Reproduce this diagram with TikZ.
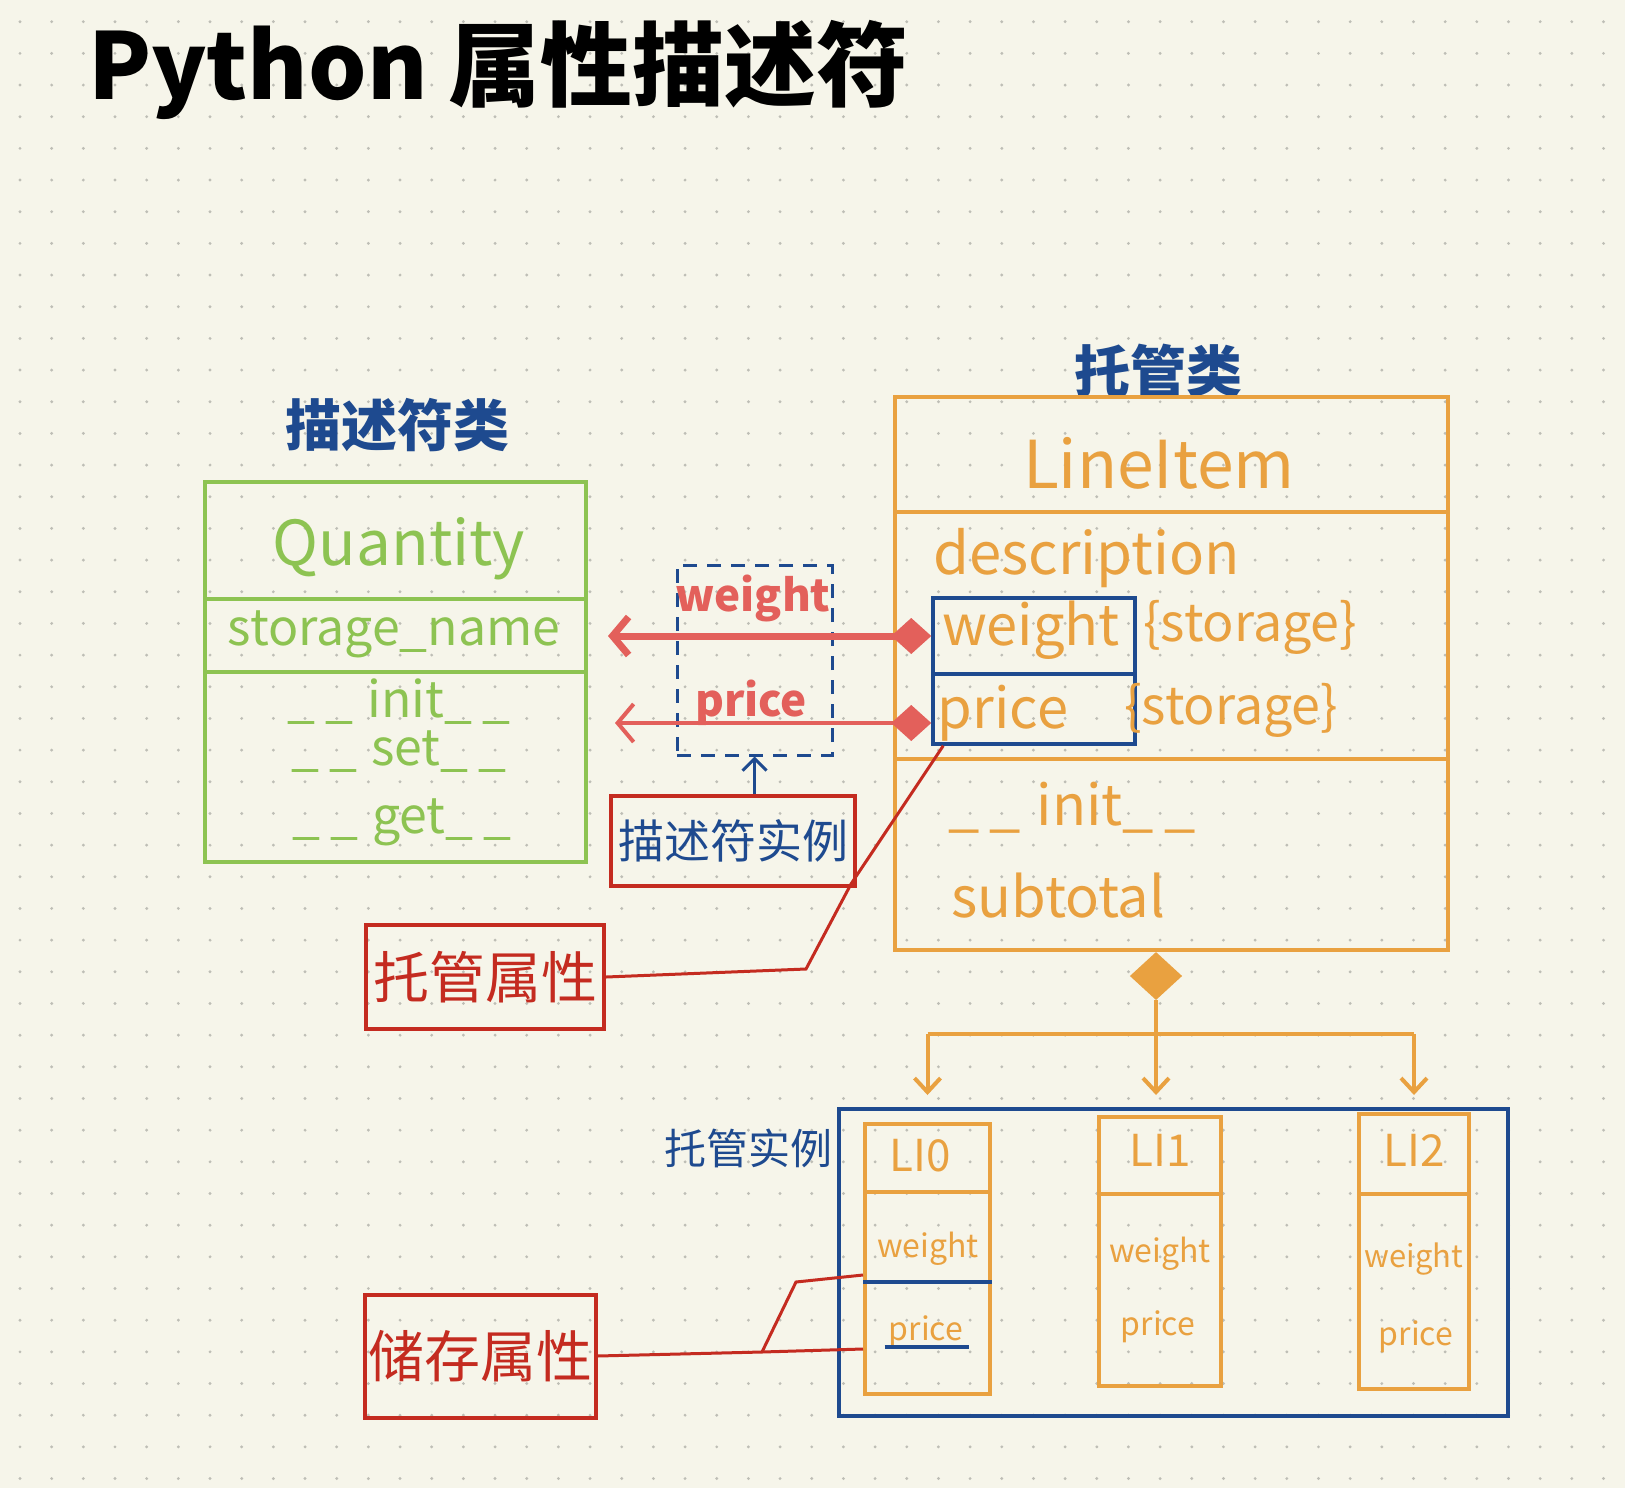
\documentclass[tikz,border=0pt]{standalone}
\usepackage{fontspec}
\setmainfont{Noto Sans CJK SC}
\usetikzlibrary{arrows.meta,shapes.geometric}

\definecolor{paper}{HTML}{F6F5EA}
\definecolor{dotgray}{HTML}{BEBEB6}
\definecolor{qgreen}{HTML}{8DC352}
\definecolor{liorange}{HTML}{E9A140}
\definecolor{inkblue}{HTML}{1E4A8F}
\definecolor{notered}{HTML}{C42B20}
\definecolor{arrowred}{HTML}{E3605B}

\newcommand\fsz[1]{\fontsize{#1}{#1}\selectfont}
% spaced double underscore, as written by hand
\newcommand\dund{\_\kern10pt\_}

\begin{document}
\begin{tikzpicture}[
    x=1pt, y=-1pt,
    classbox/.style={draw, line width=4pt, inner sep=0pt},
    notebox/.style={draw=notered, line width=4pt, inner sep=0pt},
    txt/.style={inner sep=0pt},
    headtxt/.style={txt, text=inkblue, font=\fsz{56}\bfseries},
    qtxt/.style={txt, text=qgreen},
    otxt/.style={txt, text=liorange},
    rarrow/.style={draw=arrowred, {Diamond[length=40pt,width=36pt]}-{Straight Barb[length=16pt,width=38pt]}},
    oarrow/.style={draw=liorange, line width=4pt, -{Straight Barb[length=14pt,width=26pt]}}
]
  % paper and dot grid
  \fill[paper] (0,0) rectangle (1625,1488);
  \useasboundingbox (0,0) rectangle (1625,1488);
  \foreach \i in {0,...,50}
    \foreach \j in {0,...,46}
      \fill[dotgray] (20+31.67*\i, 21.7+31.67*\j) circle (1.6);

  % title
  \node[txt, anchor=west, font=\fsz{92}\bfseries] (title) at (88,70) {Python 属性描述符};

  % descriptor class
  \node[headtxt] (qhead) at (397,425) {描述符类};
  \node[classbox, draw=qgreen, minimum width=381, minimum height=380] (qbox) at (395.5,672) {};
  \draw[qgreen, line width=4pt] (qbox.west |- 0,599) -- (qbox.east |- 0,599);
  \draw[qgreen, line width=4pt] (qbox.west |- 0,672) -- (qbox.east |- 0,672);
  \node[qtxt, font=\fsz{62}] (qname) at (399,549) {Quantity};
  \node[qtxt, font=\fsz{50}] (qattr) at (394,634) {storage\_name};
  \node[qtxt, font=\fsz{50}] (qinit) at (399,702) {\dund\kern14pt init\dund};
  \node[qtxt, font=\fsz{50}] (qset) at (399,752) {\dund\kern14pt set\dund};
  \node[qtxt, font=\fsz{50}] (qget) at (402,822) {\dund\kern14pt get\dund};

  % managed class
  \node[headtxt] (lhead) at (1158,371) {托管类};
  \node[classbox, draw=liorange, minimum width=553, minimum height=553] (libox) at (1171.5,673.5) {};
  \draw[liorange, line width=4pt] (libox.west |- 0,512) -- (libox.east |- 0,512);
  \draw[liorange, line width=4pt] (libox.west |- 0,759) -- (libox.east |- 0,759);
  \node[otxt, font=\fsz{66}] (lname) at (1159,463) {LineItem};
  \node[otxt, font=\fsz{58}, anchor=west] (ldesc) at (933,558) {description};
  \node[classbox, draw=inkblue, line width=3.5pt, minimum width=202, minimum height=76] (lw) at (1034,636) {};
  \node[classbox, draw=inkblue, line width=3.5pt, minimum width=202, minimum height=70] (lp) at (1034,709) {};
  \node[otxt, font=\fsz{56}] (lwname) at (1031,630) {weight};
  \node[otxt, font=\fsz{52}, anchor=west] (lwstore) at (1143,627) {\{storage\}};
  \node[otxt, font=\fsz{56}] (lpname) at (1003,713) {price};
  \node[otxt, font=\fsz{52}, anchor=west] (lpstore) at (1124,710) {\{storage\}};
  \node[otxt, font=\fsz{56}, anchor=west] (linit) at (948,808) {\dund\kern16pt init\dund};
  \node[otxt, font=\fsz{56}, anchor=west] (lsub) at (951,896) {subtotal};

  % descriptor instances
  \node[classbox, draw=inkblue, line width=3pt, dash pattern=on 14pt off 10pt,
        minimum width=155, minimum height=190] (desc) at (754.5,660) {};
  \node[txt, text=arrowred, font=\fsz{44}\bfseries] (dw) at (753,598) {weight};
  \node[txt, text=arrowred, font=\fsz{44}\bfseries] (dp) at (751,703) {price};
  \draw[rarrow, line width=7pt, shorten >=20pt] (lw.west) -- (qbox.east |- lw.west);
  \draw[rarrow, line width=4pt, shorten >=27pt] ([yshift=-14pt]lp.west) -- (qbox.east |- 0,723);

  % notes
  \node[notebox, minimum width=244, minimum height=90, text=inkblue, font=\fsz{46}] (dinst) at (733,841) {描述符实例};
  \draw[draw=inkblue, line width=3pt, -{Straight Barb[length=12pt,width=24pt]}] (desc.south |- dinst.north) -- (desc.south);
  \node[notebox, minimum width=238, minimum height=104, text=notered, font=\fsz{56}] (mattr) at (485,977) {托管属性};
  \draw[notered, line width=3pt] (mattr.east) -- ++(200,-8) -- ++(45,-85) -- ([xshift=12pt]lp.south west);

  % aggregation to instances
  \node[diamond, fill=liorange, draw=liorange, line width=2pt, inner sep=0pt,
        minimum width=50, minimum height=46] (agg) at (1156,976) {};
  \node[classbox, draw=inkblue, minimum width=669, minimum height=307] (inst) at (1173.5,1262.5) {};
  \node[txt, text=inkblue, font=\fsz{42}] (ihead) at (748,1148) {托管实例};

  \node[classbox, draw=liorange, minimum width=125, minimum height=270] (li0) at (927.5,1259) {};
  \node[classbox, draw=liorange, minimum width=122, minimum height=269] (li1) at (1160,1251.5) {};
  \node[classbox, draw=liorange, minimum width=110, minimum height=275] (li2) at (1414,1251.5) {};
  \draw[liorange, line width=4pt] (li0.west |- 0,1192) -- (li0.east |- 0,1192);
  \draw[liorange, line width=4pt] (li1.west |- 0,1194) -- (li1.east |- 0,1194);
  \draw[liorange, line width=4pt] (li2.west |- 0,1194) -- (li2.east |- 0,1194);
  \node[otxt, font=\fsz{44}] (li0name) at (920,1156) {LI0};
  \node[otxt, font=\fsz{44}] (li1name) at (1160,1150) {LI1};
  \node[otxt, font=\fsz{44}] (li2name) at (1414,1150) {LI2};
  \node[otxt, font=\fsz{32}] (li0w) at (928,1249) {weight};
  \node[otxt, font=\fsz{32}] (li0p) at (926,1332) {price};
  \node[otxt, font=\fsz{32}] (li1w) at (1160,1254) {weight};
  \node[otxt, font=\fsz{32}] (li1p) at (1158,1327) {price};
  \node[otxt, font=\fsz{31}] (li2w) at (1414,1259) {weight};
  \node[otxt, font=\fsz{32}] (li2p) at (1416,1337) {price};
  \draw[inkblue, line width=3.5pt] (li0.west |- 0,1282) -- (li0.east |- 0,1282);
  \draw[inkblue, line width=3.5pt] ([xshift=-4pt]li0p.west |- 0,1347) -- ([xshift=6pt]li0p.east |- 0,1347);

  \coordinate (fork) at (1156,1034);
  \draw[liorange, line width=4pt] (li0.north |- fork) -- (li2.north |- fork);
  \draw[oarrow, shorten >=12pt] (agg.south) -- (agg.south |- inst.north);
  \draw[oarrow, shorten >=12pt] (li0.north |- fork) -- (li0.north |- inst.north);
  \draw[oarrow, shorten >=12pt] (li2.north |- fork) -- (li2.north |- inst.north);

  \node[notebox, minimum width=231, minimum height=123, text=notered, font=\fsz{56}] (sattr) at (480,1356) {储存属性};
  \coordinate (split) at (762,1352);
  \draw[notered, line width=3pt] (sattr.east) -- (split) -- (li0.west |- 0,1349);
  \draw[notered, line width=3pt] (split) -- ++(34,-70) -- (li0.west |- 0,1275);
\end{tikzpicture}
\end{document}
